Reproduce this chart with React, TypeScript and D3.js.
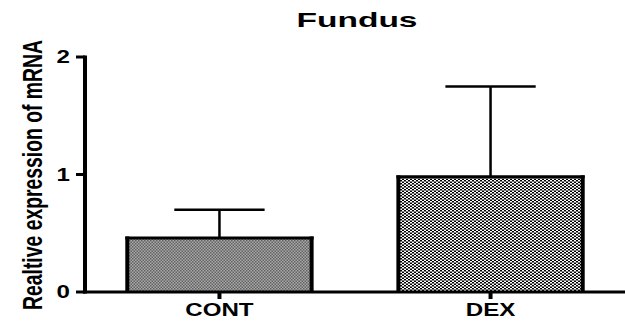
import React from "react";
import * as d3 from "d3";

const categories = ["CONT", "DEX"];
const means = [0.46, 0.98];
const errors = [0.24, 0.77];
const yTicks = [0, 1, 2];
const patterns = ["fillCont", "fillDex"];

const W = 625;
const H = 326;
const FONT = "'Liberation Sans', Arial, Helvetica, sans-serif";
const SX = 1.34; // horizontal glyph stretch

export default function App() {
  const x = d3
    .scaleBand<string>()
    .domain(categories)
    .range([85, 625])
    .paddingInner(0.32)
    .paddingOuter(0.156);
  const y = d3.scaleLinear().domain([0, 2]).range([292, 57]);
  const bw = x.bandwidth();
  const capW = bw * 0.49;

  return (
    <svg
      width={W}
      height={H}
      style={{ position: "fixed", left: 0, top: 0, background: "#fff" }}
      fontFamily={FONT}
    >
      <defs>
        <pattern id="fillCont" width={3} height={3} patternUnits="userSpaceOnUse">
          <rect width={3} height={3} fill="#a9a9a9" />
          <rect width={1.5} height={1.5} fill="#626262" />
          <rect x={1.5} y={1.5} width={1.5} height={1.5} fill="#626262" />
        </pattern>
        <pattern id="fillDex" width={4} height={3} patternUnits="userSpaceOnUse">
          <rect width={4} height={3} fill="#ffffff" />
          <rect width={2} height={1.5} fill="#000" />
          <rect x={2} y={1.5} width={2} height={1.5} fill="#000" />
        </pattern>
      </defs>

      {/* title */}
      <text
        x={357}
        y={27}
        textAnchor="middle"
        fontSize={21}
        fontWeight="bold"
        textLength={121}
        lengthAdjust="spacingAndGlyphs"
      >
        Fundus
      </text>

      {/* y axis label */}
      <text
        transform={`translate(42,175) rotate(-90) scale(1,${SX})`}
        textAnchor="middle"
        fontSize={20}
        fontWeight="bold"
        textLength={270}
        lengthAdjust="spacingAndGlyphs"
      >
        Realtive expression of mRNA
      </text>

      {/* bars */}
      {categories.map((c, i) => {
        const x0 = x(c)!;
        const top = y(means[i]);
        const cx = x0 + bw / 2;
        const errTop = y(means[i] + errors[i]);
        return (
          <g key={c}>
            <line x1={cx} x2={cx} y1={top} y2={errTop} stroke="#000" strokeWidth={2.5} />
            <line
              x1={cx - capW / 2}
              x2={cx + capW / 2}
              y1={errTop}
              y2={errTop}
              stroke="#000"
              strokeWidth={2.5}
            />
            <rect x={x0} y={top} width={bw} height={y(0) - top} fill={`url(#${patterns[i]})`} />
            <line x1={x0 - 2} x2={x0 + bw + 2} y1={top} y2={top} stroke="#000" strokeWidth={3} />
            <line x1={x0} x2={x0} y1={top - 1.5} y2={y(0)} stroke="#000" strokeWidth={4} />
            <line x1={x0 + bw} x2={x0 + bw} y1={top - 1.5} y2={y(0)} stroke="#000" strokeWidth={4} />
          </g>
        );
      })}

      {/* y axis */}
      <line x1={85} x2={85} y1={y(2) - 1.5} y2={y(0) + 1.5} stroke="#000" strokeWidth={4} />
      {yTicks.map((t) => (
        <g key={t}>
          <line x1={76} x2={85} y1={y(t)} y2={y(t)} stroke="#000" strokeWidth={3} />
          <text
            transform={`translate(70,${y(t)}) scale(${SX},1)`}
            textAnchor="end"
            dy="0.36em"
            fontSize={18}
            fontWeight="bold"
          >
            {t}
          </text>
        </g>
      ))}

      {/* x axis */}
      <line x1={83} x2={625} y1={y(0)} y2={y(0)} stroke="#000" strokeWidth={3} />
      {categories.map((c) => {
        const cx = x(c)! + bw / 2;
        return (
          <g key={c}>
            <line x1={cx} x2={cx} y1={y(0)} y2={y(0) + 7} stroke="#000" strokeWidth={4} />
            <text
              transform={`translate(${cx},316) scale(${SX},1)`}
              textAnchor="middle"
              fontSize={18}
              fontWeight="bold"
            >
              {c}
            </text>
          </g>
        );
      })}
    </svg>
  );
}
